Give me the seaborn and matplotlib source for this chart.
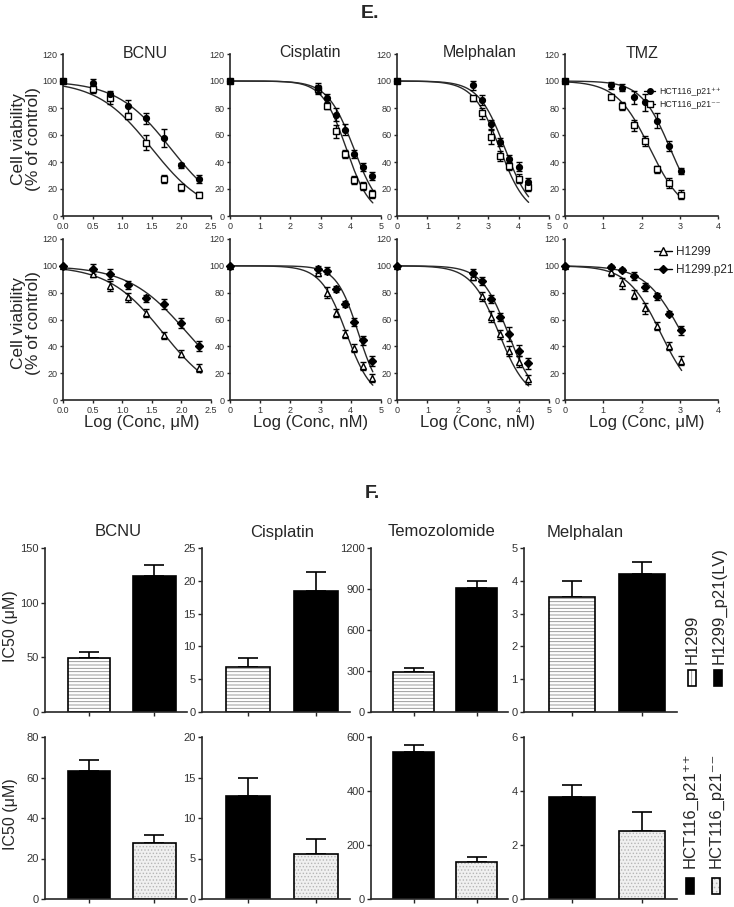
import numpy as np
import pandas as pd
import matplotlib
matplotlib.use('Agg')
import matplotlib.pyplot as plt
from matplotlib.lines import Line2D
from matplotlib.patches import Rectangle
from matplotlib.ticker import FormatStrFormatter
import seaborn as sns

W, H = 734, 907

# ---------------- E. dose-response (log conc vs % of control) ----------------
bcnu_x = [0.0, 0.5, 0.79, 1.09, 1.4, 1.7, 2.0, 2.3]
cis_x = [0.0, 2.9, 3.2, 3.5, 3.8, 4.1, 4.4, 4.7]
mel_x = [0.0, 2.5, 2.8, 3.1, 3.4, 3.7, 4.0, 4.3]
tmz_x = [0.0, 1.2, 1.5, 1.81, 2.1, 2.41, 2.71, 3.02]

# HCT116 row
bcnu_hct_pos = [100, 98.3, 90.2, 81.2, 72.4, 57.8, 37.6, 27.6]
bcnu_hct_pos_err = [0, 3, 2.5, 5, 4, 6.5, 2, 3]
bcnu_hct_neg = [100, 93.9, 87.3, 73.9, 54.4, 27.3, 21.2, 15.9]
bcnu_hct_neg_err = [0, 3, 4, 2, 5.5, 3, 2.5, 2]
cis_hct_pos = [100, 94.6, 87.1, 75.1, 63.9, 45.9, 36.1, 29.7]
cis_hct_pos_err = [0, 4, 3, 5, 4, 3, 3, 3]
cis_hct_neg = [100, 94, 81.2, 62.7, 45.6, 26.8, 21.9, 16.6]
cis_hct_neg_err = [0, 3, 2, 5, 3, 3, 3, 3]
mel_hct_pos = [100, 96.8, 85.9, 67.8, 54.9, 42.2, 36.6, 24.9]
mel_hct_pos_err = [0, 3.5, 3.5, 3.5, 3, 3, 3.5, 3.5]
mel_hct_neg = [100, 87.1, 76.1, 58.5, 44.4, 37.1, 27.6, 21.2]
mel_hct_neg_err = [0, 2, 4, 5, 3.5, 3, 3.5, 3]
tmz_hct_pos = [100, 96.8, 95.1, 87.8, 84.1, 70.7, 52, 33.4]
tmz_hct_pos_err = [0, 2.5, 2.5, 4.5, 6, 5.5, 3.5, 2.5]
tmz_hct_neg = [100, 88.3, 81.7, 67.1, 55.6, 34.6, 24.4, 15.9]
tmz_hct_neg_err = [0, 2, 3, 4, 3.5, 2.5, 3.5, 3.5]

# H1299 row
bcnu_h1299 = [100, 94, 85, 76.5, 64.5, 48.3, 34.5, 23.8]
bcnu_h1299_err = [0, 2.5, 4, 3.5, 3, 2.5, 2.5, 3]
bcnu_h1299p21 = [100, 97.5, 94, 85.8, 75.8, 71.5, 57.5, 40.3]
bcnu_h1299p21_err = [0, 3.5, 3.5, 3, 2.5, 3.5, 3.5, 3.5]
cis_h1299 = [100, 95, 80, 64.5, 49.5, 39, 25.3, 16.2]
cis_h1299_err = [0, 2.5, 4, 3, 3, 3, 3, 3]
cis_h1299p21 = [100, 97.5, 96.5, 82.8, 71.5, 58.3, 44.5, 29]
cis_h1299p21_err = [0, 2.5, 2.5, 2.5, 2.5, 3, 3.5, 3.5]
mel_h1299 = [100, 91.5, 77.3, 62, 49, 36.6, 28.6, 15.4]
mel_h1299_err = [0, 2, 3.5, 4, 3.5, 3.5, 4, 3.5]
mel_h1299p21 = [100, 94.9, 88.8, 75.4, 62.2, 49.3, 36.8, 27.4]
mel_h1299p21_err = [0, 3, 3, 3, 3, 5, 4, 4]
tmz_h1299 = [100, 95.6, 87, 78.5, 68.3, 55.4, 40, 29.3]
tmz_h1299_err = [0, 3, 4, 3.5, 4, 3, 3, 3.5]
tmz_h1299p21 = [100, 99, 97, 92.7, 84.1, 77.3, 64.4, 52]
tmz_h1299p21_err = [0, 1.5, 1.5, 3, 3, 2.5, 2, 3.5]

# fitted curves: (log IC50, hill slope)
fit_hct_pos = [(1.82, 0.95), (4.1, 1.0), (3.55, 1.0), (2.75, 1.14)]
fit_hct_neg = [(1.50, 0.94), (3.85, 1.1), (3.38, 1.0), (2.22, 0.99)]
fit_h1299p21 = [(2.1, 0.87), (4.25, 1.2), (3.65, 1.0), (3.05, 0.9)]
fit_h1299 = [(1.69, 0.94), (3.85, 1.03), (3.35, 0.95), (2.5, 1.0)]

# ---------------- F. IC50 bars ----------------
drugs_f = ['BCNU', 'Cisplatin', 'Temozolomide', 'Melphalan']
ic50_h1299 = [49.4, 6.9, 293, 3.52]
ic50_h1299_err = [5.2, 1.3, 31, 0.47]
ic50_h1299p21 = [124.5, 18.4, 907, 4.22]
ic50_h1299p21_err = [10.4, 3.0, 55, 0.34]
ic50_hct_pos = [63, 12.7, 545, 3.76]
ic50_hct_pos_err = [5.5, 2.3, 25, 0.45]
ic50_hct_neg = [27.8, 5.5, 138, 2.53]
ic50_hct_neg_err = [3.7, 1.9, 18, 0.68]

sns.set_style('ticks')
plt.rcParams['font.family'] = ['Liberation Sans', 'DejaVu Sans']
plt.rcParams['hatch.linewidth'] = 0.6

fig = plt.figure(figsize=(W / 100, H / 100), dpi=100)


def add_ax(left, top, right, bottom):
    return fig.add_axes([left / W, 1 - bottom / H, (right - left) / W, (bottom - top) / H])


def style_ax(ax, labelsize):
    sns.despine(ax=ax)
    for s in ['left', 'bottom']:
        ax.spines[s].set_linewidth(1.2)
    ax.tick_params(direction='out', length=3, width=1, labelsize=labelsize,
                   labelcolor='#333333', pad=1.5)


def hill(x, c, h):
    return 100 / (1 + 10 ** (h * (x - c)))


def draw_curve(ax, xs, ys, errs, fit, marker, mfc, ms):
    grid = np.linspace(0, xs[-1] + 0.03, 200)
    sns.lineplot(x=grid, y=hill(grid, *fit), ax=ax, color='#2a2a2a', lw=1)
    ax.errorbar(xs, ys, yerr=errs, fmt=marker, mfc=mfc, mec='k', mew=1, ms=ms,
                ecolor='k', elinewidth=1, capsize=2.2, capthick=1, clip_on=False, zorder=3)


xs_list = [bcnu_x, cis_x, mel_x, tmz_x]
xmax_list = [2.5, 5, 5, 4]
titles_e = ['BCNU', 'Cisplatin', 'Melphalan', 'TMZ']
title_x_e = [145, 310, 480, 642]
cols_e = [(63, 211), (230, 381), (397, 549), (565, 718)]
rows_e = [(54, 216), (239, 400)]
units_e = ['Log (Conc, μM)', 'Log (Conc, nM)', 'Log (Conc, nM)', 'Log (Conc, μM)']

row1 = [(bcnu_hct_pos, bcnu_hct_pos_err, bcnu_hct_neg, bcnu_hct_neg_err),
        (cis_hct_pos, cis_hct_pos_err, cis_hct_neg, cis_hct_neg_err),
        (mel_hct_pos, mel_hct_pos_err, mel_hct_neg, mel_hct_neg_err),
        (tmz_hct_pos, tmz_hct_pos_err, tmz_hct_neg, tmz_hct_neg_err)]
row2 = [(bcnu_h1299p21, bcnu_h1299p21_err, bcnu_h1299, bcnu_h1299_err),
        (cis_h1299p21, cis_h1299p21_err, cis_h1299, cis_h1299_err),
        (mel_h1299p21, mel_h1299p21_err, mel_h1299, mel_h1299_err),
        (tmz_h1299p21, tmz_h1299p21_err, tmz_h1299, tmz_h1299_err)]

for r, (top, bot) in enumerate(rows_e):
    for i, (l, rgt) in enumerate(cols_e):
        ax = add_ax(l, top, rgt, bot)
        xs = xs_list[i]
        if r == 0:
            pos, pos_err, neg, neg_err = row1[i]
            draw_curve(ax, xs, neg, neg_err, fit_hct_neg[i], 's', 'white', 4)
            draw_curve(ax, xs, pos, pos_err, fit_hct_pos[i], 'o', 'k', 4.2)
        else:
            pos, pos_err, neg, neg_err = row2[i]
            draw_curve(ax, xs, neg, neg_err, fit_h1299[i], '^', 'white', 5)
            draw_curve(ax, xs, pos, pos_err, fit_h1299p21[i], 'D', 'k', 3.8)
        ax.set_xlim(0, xmax_list[i])
        ax.set_ylim(0, 120)
        ax.set_yticks(range(0, 121, 20))
        if i == 0:
            ax.set_xticks(np.arange(0, 2.51, 0.5))
            ax.xaxis.set_major_formatter(FormatStrFormatter('%.1f'))
        else:
            ax.set_xticks(range(0, xmax_list[i] + 1))
        ax.set_xlabel('')
        ax.set_ylabel('')
        style_ax(ax, 6.5)
        ax.tick_params(length=2.5)
        if r == 0:
            fig.text(title_x_e[i] / W, 1 - 53 / H, titles_e[i], ha='center', va='center', fontsize=11.5)
            if i == 3:
                hs = [Line2D([], [], color='k', lw=1, marker='o', mfc='k', ms=4),
                      Line2D([], [], color='k', lw=1, marker='s', mfc='white', ms=4)]
                ax.legend(hs, ['HCT116_p21⁺⁺', 'HCT116_p21⁻⁻'], loc='center left',
                          bbox_to_anchor=(644 / W, 1 - 98 / H), bbox_transform=fig.transFigure,
                          frameon=False, fontsize=6.3, handlelength=1.3, handletextpad=0.4,
                          labelspacing=0.45, borderpad=0, borderaxespad=0)
        else:
            fig.text(((l + rgt) / 2 + 5) / W, 1 - 423 / H, units_e[i], ha='center', va='center', fontsize=12)
            if i == 3:
                hs = [Line2D([], [], color='k', lw=1, marker='^', mfc='white', ms=5.5),
                      Line2D([], [], color='k', lw=1, marker='D', mfc='k', ms=4.5)]
                ax.legend(hs, ['H1299', 'H1299.p21'], loc='center left',
                          bbox_to_anchor=(654 / W, 1 - 261 / H), bbox_transform=fig.transFigure,
                          frameon=False, fontsize=8.5, handlelength=1.5, handletextpad=0.4,
                          labelspacing=0.45, borderpad=0, borderaxespad=0)
    fig.text(26 / W, 1 - ((top + bot) / 2 + 4) / H, 'Cell viability\n(% of control)', rotation=90,
             ha='center', va='center', fontsize=12.5, linespacing=1.05, multialignment='center')

fig.text(370 / W, 1 - 14 / H, 'E.', ha='center', va='center', fontsize=14, fontweight='bold')
fig.text(372 / W, 1 - 494 / H, 'F.', ha='center', va='center', fontsize=14, fontweight='bold')

# ---------------- F panels ----------------
hatch_style = {'face': 'white', 'hatch': '-----', 'hc': '#8c8c8c'}
dot_style = {'face': '#f0f0f0', 'hatch': '.....', 'hc': '#b5b5b5'}
black_style = {'face': 'black', 'hatch': None, 'hc': 'black'}

cols_f = [(45, 187), (202, 350), (371, 508), (524, 677)]
rows_f = [(548, 712), (737, 899)]
title_x_f = [118, 282, 442, 585]
yticks_f = [[range(0, 151, 50), range(0, 26, 5), range(0, 1201, 300), range(0, 6, 1)],
            [range(0, 81, 20), range(0, 21, 5), range(0, 601, 200), range(0, 7, 2)]]


def draw_bars(ax, vals, errs, styles):
    df = pd.DataFrame({'grp': ['a', 'b'], 'v': vals})
    sns.barplot(data=df, x='grp', y='v', hue='grp', palette=[s['face'] for s in styles],
                width=0.65, saturation=1, linewidth=0, legend=False, errorbar=None, ax=ax)
    for p, s in zip(ax.patches, styles):
        if s['hatch']:
            p.set_hatch(s['hatch'])
            p.set_edgecolor(s['hc'])
            p.set_linewidth(0)
    sns.barplot(data=df, x='grp', y='v', fill=False, color='k', width=0.65,
                linewidth=1.2, errorbar=None, ax=ax)
    ax.errorbar(range(len(vals)), vals, yerr=[[0] * len(vals), errs], fmt='none',
                ecolor='k', elinewidth=1.2, capsize=7.5, capthick=1.2, zorder=0)


for r, (top, bot) in enumerate(rows_f):
    for i, (l, rgt) in enumerate(cols_f):
        ax = add_ax(l, top, rgt, bot)
        if r == 0:
            draw_bars(ax, [ic50_h1299[i], ic50_h1299p21[i]],
                      [ic50_h1299_err[i], ic50_h1299p21_err[i]], [hatch_style, black_style])
            fig.text(title_x_f[i] / W, 1 - 532 / H, drugs_f[i], ha='center', va='center', fontsize=12)
        else:
            draw_bars(ax, [ic50_hct_pos[i], ic50_hct_neg[i]],
                      [ic50_hct_pos_err[i], ic50_hct_neg_err[i]], [black_style, dot_style])
        yt = list(yticks_f[r][i])
        ax.set_ylim(0, yt[-1])
        ax.set_yticks(yt)
        ax.set_xlim(-0.68, 1.5)
        ax.set_xticks([0, 1])
        ax.set_xticklabels([])
        ax.set_xlabel('')
        ax.set_ylabel('')
        style_ax(ax, 8)
    fig.text(11 / W, 1 - ((top + bot) / 2 - 4) / H, 'IC50 (μM)', rotation=90,
             ha='center', va='center', fontsize=11.5)

# rotated legends for F
fig.text(692 / W, 1 - 664 / H, 'H1299', rotation=90, ha='center', va='bottom', fontsize=12)
fig.text(719 / W, 1 - 664 / H, 'H1299_p21(LV)', rotation=90, ha='center', va='bottom', fontsize=12)
fig.text(690 / W, 1 - 868 / H, 'HCT116_p21⁺⁺', rotation=90, ha='center', va='bottom', fontsize=12)
fig.text(716 / W, 1 - 868 / H, 'HCT116_p21⁻⁻', rotation=90, ha='center', va='bottom', fontsize=12)

legend_boxes = [(688, 670, hatch_style, '|||'), (714, 670, black_style, None),
                (686, 878, black_style, None), (712, 878, dot_style, '....')]
for x0, y0, s, htch in legend_boxes:
    fill = Rectangle((x0 / W, 1 - (y0 + 16) / H), 8 / W, 16 / H, transform=fig.transFigure,
                     facecolor=s['face'], edgecolor=s['hc'], lw=0, hatch=htch)
    fig.patches.append(fill)
    box = Rectangle((x0 / W, 1 - (y0 + 16) / H), 8 / W, 16 / H, transform=fig.transFigure,
                    facecolor='none', edgecolor='k', lw=1.2)
    fig.patches.append(box)

fig.savefig('out.png', dpi=100)
